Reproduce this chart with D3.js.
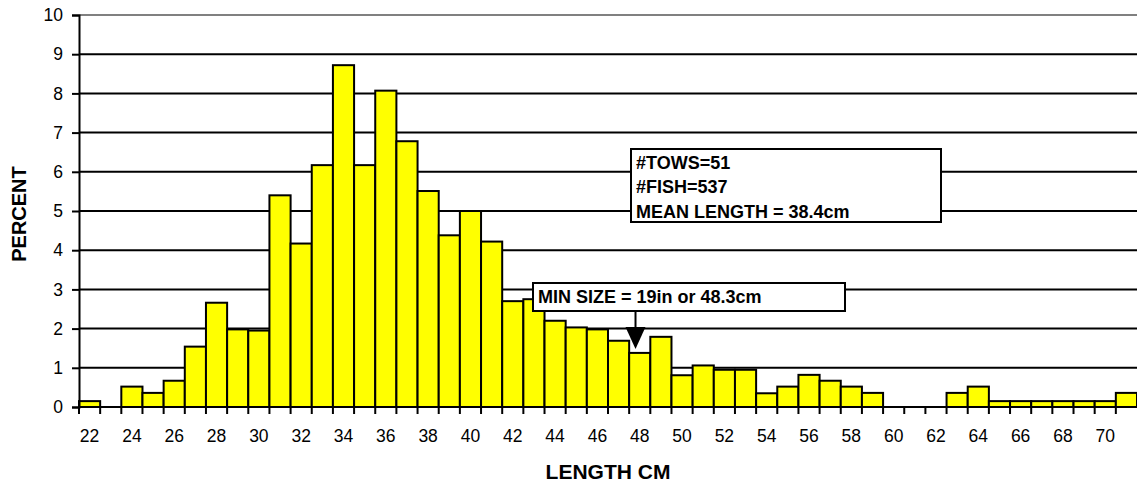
<!DOCTYPE html>
<html>
  <head>
    <meta charset="utf-8">
    <title>Length frequency</title>
    <style>
      body { margin: 0; background: #fff; }
      svg text { font-family: "Liberation Sans", Arial, sans-serif; fill: #000; }
    </style>
  </head>
  <body>
    <svg id="chart" width="1137" height="482"></svg>
    <script src="https://d3js.org/d3.v7.min.js"></script>
    <script>
      // length classes (cm) and percent of fish in each
      var lengths = d3.range(22, 72)
      var percents = [
        0.15, 0, 0.52, 0.36, 0.67, 1.54, 2.66, 1.98, 1.95, 5.40,
        4.17, 6.17, 8.72, 6.17, 8.07, 6.78, 5.51, 4.38, 5.00, 4.22,
        2.70, 2.75, 2.20, 2.03, 1.98, 1.69, 1.38, 1.79, 0.81, 1.06,
        0.95, 0.95, 0.35, 0.52, 0.82, 0.67, 0.52, 0.36, 0, 0,
        0, 0.36, 0.52, 0.15, 0.15, 0.15, 0.15, 0.15, 0.15, 0.36
      ]
      var yTicks = d3.range(0, 11)
      var xLabels = d3.range(22, 72, 2)
      var statLines = ["#TOWS=51", "#FISH=537", "MEAN LENGTH = 38.4cm"]
      var minSizeText = "MIN SIZE = 19in or 48.3cm"
      var minSizeCm = 48.3

      var svg = d3.select("#chart")
      var margin = { left: 79, right: 0, top: 15, bottom: 75 }
      var W = 1137, H = 482

      var x = d3.scaleBand()
        .domain(lengths)
        .range([margin.left, W - margin.right])
        .padding(0)
      var y = d3.scaleLinear()
        .domain([0, 10])
        .range([H - margin.bottom, margin.top])

      // gridlines
      svg.append("g")
        .selectAll("line")
        .data(yTicks.filter(d => d > 0))
        .join("line")
          .attr("x1", margin.left)
          .attr("x2", W)
          .attr("y1", d => y(d))
          .attr("y2", d => y(d))
          .attr("stroke", d => d == 10 ? "#808080" : "#000")
          .attr("stroke-width", 2)

      // bars
      svg.append("g")
        .selectAll("rect")
        .data(percents.map((v, i) => ({ len: lengths[i], v: v })).filter(d => d.v > 0))
        .join("rect")
          .attr("x", d => x(d.len))
          .attr("y", d => y(d.v))
          .attr("width", x.bandwidth())
          .attr("height", d => y(0) - y(d.v))
          .attr("fill", "#ffff00")
          .attr("stroke", "#000")
          .attr("stroke-width", 2)

      // y axis
      var yAxis = svg.append("g")
        .attr("transform", `translate(${margin.left},0)`)
        .call(d3.axisLeft(y).tickValues(yTicks).tickSize(7).tickPadding(9))
      yAxis.select(".domain").attr("stroke-width", 2)
      yAxis.selectAll(".tick line").attr("stroke-width", 2)
      yAxis.selectAll("text").style("font-size", "17.5px")

      // x axis: ticks on class boundaries, labels every 2 cm
      var xAxis = svg.append("g")
        .attr("transform", `translate(0,${y(0)})`)
      xAxis.append("line")
        .attr("x1", margin.left).attr("x2", W)
        .attr("stroke", "#000").attr("stroke-width", 2)
      xAxis.selectAll(".tk")
        .data(lengths)
        .join("line")
          .attr("class", "tk")
          .attr("x1", d => x(d))
          .attr("x2", d => x(d))
          .attr("y1", 0).attr("y2", 7)
          .attr("stroke", "#000").attr("stroke-width", 2)
      xAxis.selectAll("text")
        .data(xLabels)
        .join("text")
          .attr("x", d => x(d) + x.bandwidth() / 2)
          .attr("y", 35)
          .attr("text-anchor", "middle")
          .style("font-size", "17.5px")
          .text(d => d)

      // axis titles
      svg.append("text")
        .attr("x", (margin.left + W) / 2)
        .attr("y", 479)
        .attr("text-anchor", "middle")
        .style("font-size", "21px")
        .style("font-weight", "bold")
        .text("LENGTH CM")
      svg.append("text")
        .attr("transform", `translate(26,${(y(0) + y(10)) / 2 + 3}) rotate(-90)`)
        .attr("text-anchor", "middle")
        .style("font-size", "20px")
        .style("font-weight", "bold")
        .text("PERCENT")

      // stats box
      var stats = svg.append("g")
      stats.append("rect")
        .attr("x", 631).attr("y", 149)
        .attr("width", 310).attr("height", 73)
        .attr("fill", "#fff").attr("stroke", "#000").attr("stroke-width", 2)
      stats.selectAll("text")
        .data(statLines)
        .join("text")
          .attr("x", 636)
          .attr("y", (d, i) => 168.5 + i * 24.5)
          .style("font-size", "18px")
          .style("font-weight", "bold")
          .text(d => d)

      // min size callout
      var ax = x(48) + x.bandwidth() * (minSizeCm - 48)
      var ms = svg.append("g")
      ms.append("line")
        .attr("x1", ax).attr("x2", ax)
        .attr("y1", 311).attr("y2", 328)
        .attr("stroke", "#000").attr("stroke-width", 2)
      ms.append("path")
        .attr("d", `M${ax - 10},327 L${ax + 10},327 L${ax},349 Z`)
        .attr("fill", "#000")
      ms.append("rect")
        .attr("x", 533).attr("y", 283)
        .attr("width", 312).attr("height", 28)
        .attr("fill", "#fff").attr("stroke", "#000").attr("stroke-width", 2)
      ms.append("text")
        .attr("x", 538).attr("y", 303)
        .style("font-size", "18px")
        .style("font-weight", "bold")
        .text(minSizeText)
    </script>
  </body>
</html>
